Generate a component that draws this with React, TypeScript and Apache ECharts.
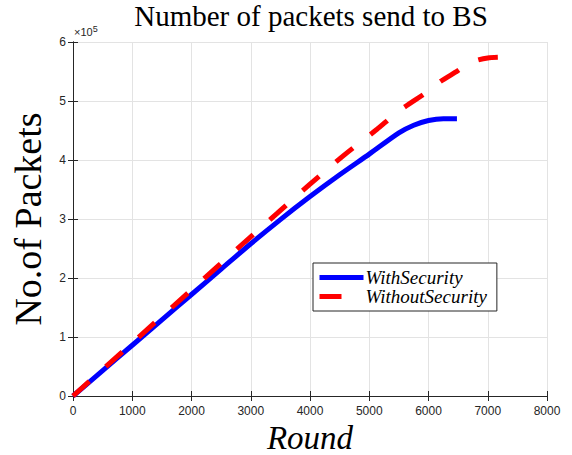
import React, { useEffect, useRef } from "react";
import * as echarts from "echarts";

const roundsWith = [0, 500, 1000, 1500, 2000, 2500, 3000, 3500, 4000, 4500, 5000, 5500, 5750, 6000, 6250, 6480];
const packetsWith = [0, 43000, 86000, 129000, 172000, 215000, 258000, 299000, 338000, 375000, 410000, 446000, 459000, 467000, 470000, 470000];

const roundsWithout = [0, 1000, 2000, 2900, 3440, 4000, 4560, 5130, 5500, 6000, 6200, 6490, 6650, 6820, 7000, 7170];
const packetsWithout = [0, 90000, 180000, 261000, 309000, 359000, 407000, 452000, 483000, 517000, 533000, 551000, 562000, 569000, 573000, 574000];

const xTicks = [0, 1000, 2000, 3000, 4000, 5000, 6000, 7000, 8000];
const yTickLabels = ["0", "1", "2", "3", "4", "5", "6"];

const titleText = "Number of packets send to BS";
const xName = "Round";
const yName = "No.of Packets";
const seriesNames = ["WithSecurity", "WithoutSecurity"];

const AXIS = "#262626";
const GRID = "#e3e3e3";

export default function App() {
  const ref = useRef<HTMLDivElement>(null);
  useEffect(() => {
    if (!ref.current) return;
    const chart = echarts.init(ref.current, undefined, { renderer: "svg" });
    const withData = roundsWith.map((r, i) => [r, packetsWith[i]]);
    const withoutData = roundsWithout.map((r, i) => [r, packetsWithout[i]]);
    const xMax = xTicks[xTicks.length - 1];
    const yStep = 100000;
    const yMax = yStep * (yTickLabels.length - 1);
    const tickCommon = { show: true, inside: true, length: 5, lineStyle: { color: AXIS, width: 1 } };
    const lineCommon = { show: true, lineStyle: { color: AXIS, width: 1 } };
    const labelCommon = { color: AXIS, fontSize: 12, fontFamily: "Liberation Sans" };
    chart.setOption({
      animation: false,
      backgroundColor: "#ffffff",
      title: {
        text: titleText,
        left: 311,
        textAlign: "center",
        top: 1,
        padding: 0,
        textStyle: { fontFamily: "Liberation Serif", fontWeight: "normal", fontSize: 29, color: "#000" },
      },
      grid: { left: 73, width: 474, top: 42, height: 354, containLabel: false, outerBoundsMode: "none" },
      legend: {
        orient: "vertical",
        left: 313,
        top: 263,
        data: [
          { name: seriesNames[0], lineStyle: { width: 5, color: "#0000ff" } },
          { name: seriesNames[1], lineStyle: { width: 5, color: "#ff0000", type: [22, 40] } },
        ],
        itemWidth: 44,
        itemHeight: 14,
        itemGap: 0,
        padding: [5, 10, 5, 4],
        backgroundColor: "#ffffff",
        borderColor: AXIS,
        borderWidth: 1,
        borderRadius: 0,
        itemStyle: { opacity: 0 },
        textStyle: { fontFamily: "Liberation Serif", fontStyle: "italic", fontSize: 19, color: "#000", padding: [0, 0, 0, -3] },
      },
      graphic: [
        {
          type: "text",
          left: 74,
          top: 24,
          style: {
            text: "×10{s|5}",
            fill: AXIS,
            font: "11px 'Liberation Sans'",
            rich: { s: { fontSize: 9, fontFamily: "Liberation Sans", verticalAlign: "top", padding: [0, 0, 6, 0] } },
          },
        },
      ],
      xAxis: [
        {
          type: "value",
          min: 0,
          max: xMax,
          interval: 1000,
          position: "bottom",
          axisLine: lineCommon,
          axisTick: tickCommon,
          axisLabel: { ...labelCommon, margin: 9, formatter: (v: number) => String(v) },
          splitLine: { show: true, lineStyle: { color: GRID, width: 1 } },
          name: xName,
          nameLocation: "middle",
          nameGap: 18,
          nameTextStyle: { fontFamily: "Liberation Serif", fontStyle: "italic", fontSize: 33, lineHeight: 30, color: "#000" },
        },
        {
          type: "value",
          min: 0,
          max: xMax,
          interval: 1000,
          position: "top",
          axisLine: lineCommon,
          axisTick: tickCommon,
          axisLabel: { show: false },
          splitLine: { show: false },
        },
      ],
      yAxis: [
        {
          type: "value",
          min: 0,
          max: yMax,
          interval: yStep,
          position: "left",
          axisLine: lineCommon,
          axisTick: tickCommon,
          axisLabel: {
            ...labelCommon,
            margin: 7,
            formatter: (v: number) => yTickLabels[Math.round(v / yStep)] ?? "",
          },
          splitLine: { show: true, lineStyle: { color: GRID, width: 1 } },
          name: yName,
          nameLocation: "middle",
          nameGap: 26,
          nameRotate: 90,
          nameTextStyle: { fontFamily: "Liberation Serif", fontSize: 38, color: "#000" },
        },
        {
          type: "value",
          min: 0,
          max: yMax,
          interval: yStep,
          position: "right",
          axisLine: lineCommon,
          axisTick: tickCommon,
          axisLabel: { show: false },
          splitLine: { show: false },
        },
      ],
      series: [
        {
          name: seriesNames[0],
          type: "line",
          xAxisIndex: 0,
          yAxisIndex: 0,
          data: withData,
          symbol: "none",
          smooth: 0.25,
          lineStyle: { color: "#0000ff", width: 5, cap: "butt" },
          itemStyle: { color: "#0000ff" },
          z: 3,
        },
        {
          name: seriesNames[1],
          type: "line",
          xAxisIndex: 0,
          yAxisIndex: 0,
          data: withoutData,
          symbol: "none",
          smooth: 0.25,
          lineStyle: { color: "#ff0000", width: 5, type: [22, 22], cap: "butt" },
          itemStyle: { color: "#ff0000" },
          z: 4,
        },
      ],
    });
    return () => chart.dispose();
  }, []);
  return <div ref={ref} style={{ width: 572, height: 455, position: "absolute", left: 0, top: 0 }} />;
}
